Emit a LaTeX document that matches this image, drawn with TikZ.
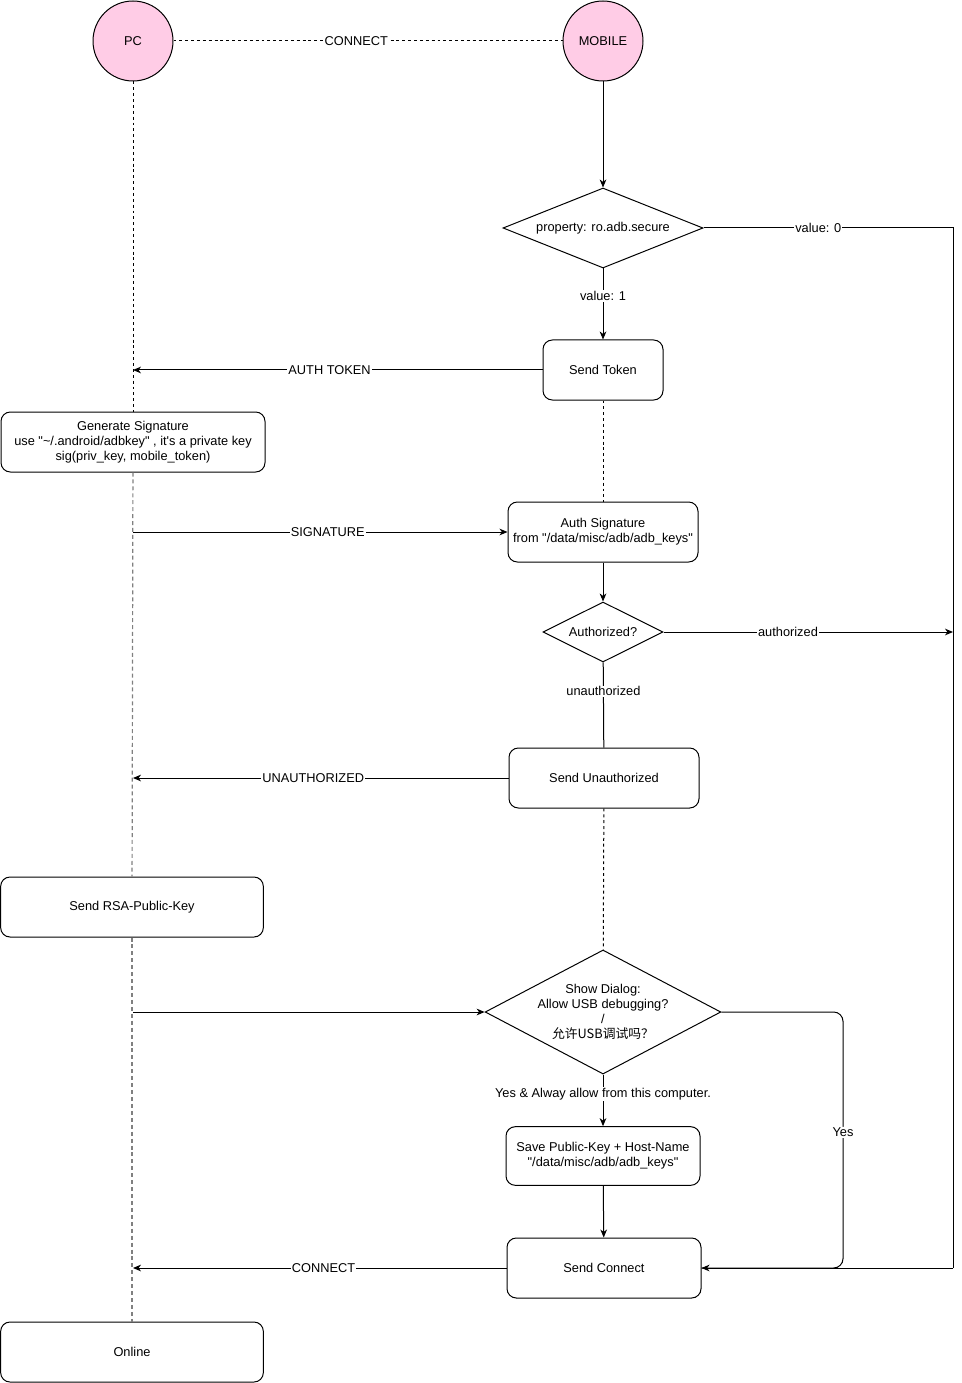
\documentclass[tikz,border=0pt]{standalone}
\usepackage{fontspec}
\setmainfont{Liberation Sans}[Ligatures=TeXOff]
\newfontfamily\cjk{Noto Sans CJK SC}
\usetikzlibrary{shapes.geometric}
\usetikzlibrary{arrows.meta}
\definecolor{actorpink}{HTML}{FFCCE6}
\tikzset{actor/.style={circle,draw,fill=actorpink,minimum size=60pt,inner sep=0pt,line width=0.75pt},
         step box/.style={draw,rounded corners=7pt,minimum height=45pt,inner sep=2pt,align=center,line width=0.75pt},
         choice/.style={diamond,draw,inner sep=0pt,align=center,line width=0.75pt},
         msg/.style={line width=0.75pt,-{Stealth[length=6pt,width=5pt,inset=1.8pt]}},
         link/.style={line width=0.75pt},
         life/.style={line width=0.75pt,dash pattern=on 2.2pt off 2.2pt},
         lifegray/.style={line width=0.9pt,gray,dash pattern=on 3pt off 2.2pt},
         lbl/.style={fill=white,inner sep=0.8pt}
         }
\begin{document}
\begin{tikzpicture}[x=0.75pt,y=-0.75pt,font=\fontsize{9.6}{11.2}\selectfont]
\useasboundingbox (0,0) rectangle (962,1383);

% actors
\node[actor] (pc) at (133,41) {PC};
\node[actor] (mob) at (603,41) {MOBILE};
\coordinate (rail) at (953,0);
\coordinate (yesx) at (843,0);

% mobile side
\node[choice,shape aspect=2.5,minimum width=150pt,minimum height=60pt] (secure) at (603,228) {property: ro.adb.secure};
\node[step box,minimum width=90pt] (tok) at (603,370) {Send Token};
\node[step box,minimum width=142.5pt] (authsig) at (603,532) {Auth Signature\\from "/data/misc/adb/adb\_keys"};
\node[choice,shape aspect=2,minimum width=90pt,minimum height=45pt] (authq) at (603,632) {Authorized?};
\node[step box,minimum width=142.5pt] (unauth) at (604,778) {Send Unauthorized};
\node[choice,shape aspect=1.9,minimum width=172.5pt,minimum height=90pt] (dialog) at (603,1012) {Show Dialog:\\Allow USB debugging?\\/\\{\cjk 允许USB调试吗？}};
\node[step box,minimum width=145.5pt,minimum height=44pt] (save) at (603,1156) {Save Public-Key + Host-Name\\"/data/misc/adb/adb\_keys"};
\node[step box,minimum width=145.5pt] (conn) at (604,1268) {Send Connect};

% pc side
\node[step box,minimum width=198pt] (gensig) at (133,442) {Generate Signature\\use "\textasciitilde/.android/adbkey" , it's a private key\\sig(priv\_key, mobile\_token)};
\node[step box,minimum width=197pt] (rsa) at (132,907) {Send RSA-Public-Key};
\node[step box,minimum width=197pt] (online) at (132,1352) {Online};

% lifelines
\draw[life] (pc) -- (gensig);
\draw[lifegray] (gensig) -- (rsa);
\draw[lifegray] (rsa) -- (online);
\draw[life] (tok) -- (authsig);
\draw[life] (unauth) -- (dialog);

% connections
\draw[life] (pc) -- node[lbl,pos=0.47] {CONNECT} (mob);
\draw[msg] (mob) -- (secure);
\draw[msg] (secure) -- node[lbl,pos=0.39] {value: 1} (tok);
\draw[link] (secure.east) -- node[lbl,pos=0.46] {value: 0} (secure.east -| rail) -- (conn.east -| rail);
\draw[msg] (conn.east -| rail) -- (conn.east);
\draw[msg] (tok.west) -- node[lbl,pos=0.52] {AUTH TOKEN} (tok.west -| pc);
\draw[msg] (authsig.west -| pc) -- node[lbl,pos=0.52] {SIGNATURE} (authsig.west);
\draw[msg] (authsig) -- (authq);
\draw[msg] (authq.east) -- node[lbl,pos=0.43] {authorized} (authq.east -| rail);
\draw[link] (authq) -- node[lbl,pos=0.34] {unauthorized} (unauth);
\draw[msg] (unauth.west) -- node[lbl,pos=0.52] {UNAUTHORIZED} (unauth.west -| pc);
\draw[msg] (dialog.west -| pc) -- (dialog.west);
\draw[msg] (dialog) -- node[lbl,pos=0.38] {Yes \& Alway allow from this computer.} (save);
\draw[msg] (save) -- (conn);
\draw[link,rounded corners=7pt] (dialog.east) -- (dialog.east -| yesx) -- node[lbl,pos=0.47] {Yes} (conn.east -| yesx) -- (conn.east);
\draw[msg] (conn.west) -- node[lbl,pos=0.49] {CONNECT} (conn.west -| pc);
\end{tikzpicture}
\end{document}
